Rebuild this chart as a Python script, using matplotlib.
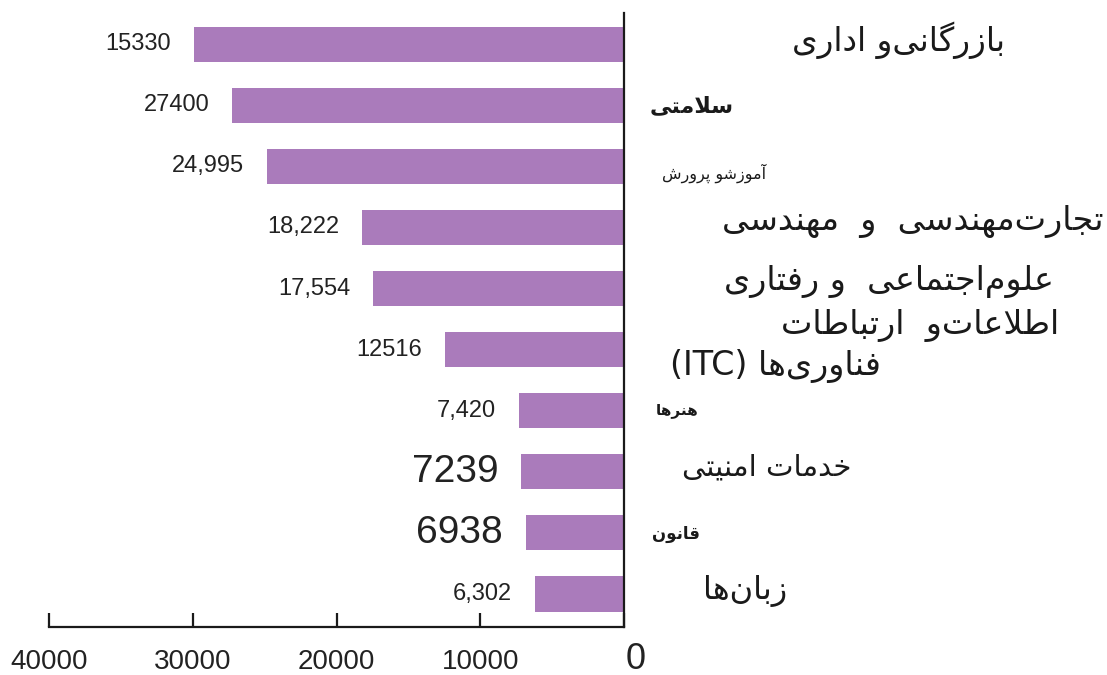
import matplotlib
matplotlib.use("Agg")
import matplotlib.pyplot as plt
from matplotlib.transforms import ScaledTranslation

# bar lengths (the first label text does not match its bar)
values = [29900, 27250, 24850, 18200, 17450, 12450, 7300, 7150, 6850, 6200]
value_labels = ["15330", "27400", "24,995", "18,222", "17,554", "12516",
                "7,420", "7239", "6938", "6,302"]
categories = ["بازرگانی\u200cو اداری", "سلامتی", "آموزشو پرورش",
              "تجارت\u200cمهندسی  و  مهندسی", "علوم\u200cاجتماعی  و رفتاری",
              "اطلاعات\u200cو  ارتباطات\nفناوری\u200cها (ITC)", "هنرها",
              "خدمات امنیتی", "قانون", "زبان\u200cها"]
xticks = [40000, 30000, 20000, 10000, 0]
xtick_labels = ["40000", "30000", "20000", "10000", "0"]

# ---- tiny persian shaper (no arabic_reshaper in the sandbox) ----
FORMS = {
    'ا': ('\uFE8D', '\uFE8E', None, None), 'آ': ('\uFE81', '\uFE82', None, None),
    'ب': ('\uFE8F', '\uFE90', '\uFE91', '\uFE92'), 'پ': ('\uFB56', '\uFB57', '\uFB58', '\uFB59'),
    'ت': ('\uFE95', '\uFE96', '\uFE97', '\uFE98'), 'ج': ('\uFE9D', '\uFE9E', '\uFE9F', '\uFEA0'),
    'خ': ('\uFEA5', '\uFEA6', '\uFEA7', '\uFEA8'), 'د': ('\uFEA9', '\uFEAA', None, None),
    'ر': ('\uFEAD', '\uFEAE', None, None), 'ز': ('\uFEAF', '\uFEB0', None, None),
    'س': ('\uFEB1', '\uFEB2', '\uFEB3', '\uFEB4'), 'ش': ('\uFEB5', '\uFEB6', '\uFEB7', '\uFEB8'),
    'ط': ('\uFEC1', '\uFEC2', '\uFEC3', '\uFEC4'), 'ع': ('\uFEC9', '\uFECA', '\uFECB', '\uFECC'),
    'ف': ('\uFED1', '\uFED2', '\uFED3', '\uFED4'), 'ق': ('\uFED5', '\uFED6', '\uFED7', '\uFED8'),
    'ک': ('\uFB8E', '\uFB8F', '\uFB90', '\uFB91'), 'گ': ('\uFB92', '\uFB93', '\uFB94', '\uFB95'),
    'ل': ('\uFEDD', '\uFEDE', '\uFEDF', '\uFEE0'), 'م': ('\uFEE1', '\uFEE2', '\uFEE3', '\uFEE4'),
    'ن': ('\uFEE5', '\uFEE6', '\uFEE7', '\uFEE8'), 'ه': ('\uFEE9', '\uFEEA', '\uFEEB', '\uFEEC'),
    'و': ('\uFEED', '\uFEEE', None, None), 'ی': ('\uFBFC', '\uFBFD', '\uFBFE', '\uFBFF'),
    'LA': ('\uFEFB', '\uFEFC', None, None), 'LAA': ('\uFEF5', '\uFEF6', None, None),
}


def fa(text):
    letters = []
    i = 0
    while i < len(text):
        c = text[i]
        if c == 'ل' and i + 1 < len(text) and text[i + 1] in 'اآ':
            letters.append('LA' if text[i + 1] == 'ا' else 'LAA')
            i += 2
        else:
            letters.append(c)
            i += 1
    out = []
    for k, c in enumerate(letters):
        if c == '\u200c':
            continue
        if c not in FORMS:
            out.append(c)
            continue
        prev = letters[k - 1] if k > 0 else None
        nxt = letters[k + 1] if k + 1 < len(letters) else None
        p = prev in FORMS and FORMS[prev][2] is not None
        n = nxt in FORMS and FORMS[c][2] is not None
        iso, fin, ini, med = FORMS[c]
        out.append(med if p and n else fin if p else ini if n else iso)
    return "".join(reversed(out))


def fa_line(line):
    # latin run "(ITC)" stays on the left in RTL display
    if "(" in line:
        head, tail = line.split(" (")
        return "(" + tail + " " + fa(head)
    return fa(line)


# per category lines: (x offset px from the zero axis, y offset px, size, weight)
label_style = [
    [(274, -4, 23.5, 'normal')],
    [(68, 1, 16, 'bold')],
    [(90, 7, 11.5, 'normal')],
    [(289, -6, 24, 'normal')],
    [(265, -7, 24, 'normal')],
    [(296, -24, 24, 'normal'), (151, 16, 24, 'normal')],
    [(53, 0, 11, 'bold')],
    [(143, -4, 21, 'normal')],
    [(52, 1, 12, 'bold')],
    [(121, -3, 23, 'normal')],
]
value_sizes = [17, 17, 17, 17, 17, 17, 17, 28, 28, 17]

W, H = 1107, 675
fig = plt.figure(figsize=(W / 100, H / 100), dpi=100)
ax = fig.add_axes([49 / W, 1 - 627 / H, (624 - 49) / W, (627 - 13) / H])

ypos = list(range(len(values)))
ax.barh(ypos, values, height=0.575, color='#AA7BBB')
ax.set_xlim(40000, 0)
ax.set_ylim(len(values) - 0.46, -0.51)

for i, (v, lab) in enumerate(zip(values, value_labels)):
    ax.annotate(lab, xy=(v, i), xytext=(-23, 0), textcoords='offset pixels',
                ha='right', va='center', fontsize=value_sizes[i],
                family='Liberation Sans', color='#222222')

for i, cat in enumerate(categories):
    for line, (dx, dy, size, weight) in zip(cat.split("\n"), label_style[i]):
        ax.annotate(fa_line(line), xy=(0, i), xytext=(dx, -dy), textcoords='offset pixels',
                    ha='center', va='center', fontsize=size, fontweight=weight,
                    family=['DejaVu Sans'], color='#1a1a1a', annotation_clip=False)

for side in ['top', 'left']:
    ax.spines[side].set_visible(False)
for side in ['right', 'bottom']:
    ax.spines[side].set_linewidth(1.6)
    ax.spines[side].set_color('#1a1a1a')

ax.set_yticks([])
ax.set_xticks(xticks)
ax.set_xticklabels(xtick_labels, family='Liberation Sans', fontsize=20, color='#222222')
ax.tick_params(axis='x', direction='in', length=10, width=1.6, color='#1a1a1a', pad=30)
for t in ax.get_xticklabels():
    t.set_verticalalignment('baseline')
zero = ax.get_xticklabels()[-1]
zero.set_fontsize(26)
zero.set_transform(zero.get_transform() + ScaledTranslation(0.12, 0, fig.dpi_scale_trans))

fig.savefig("out.png", dpi=100)
